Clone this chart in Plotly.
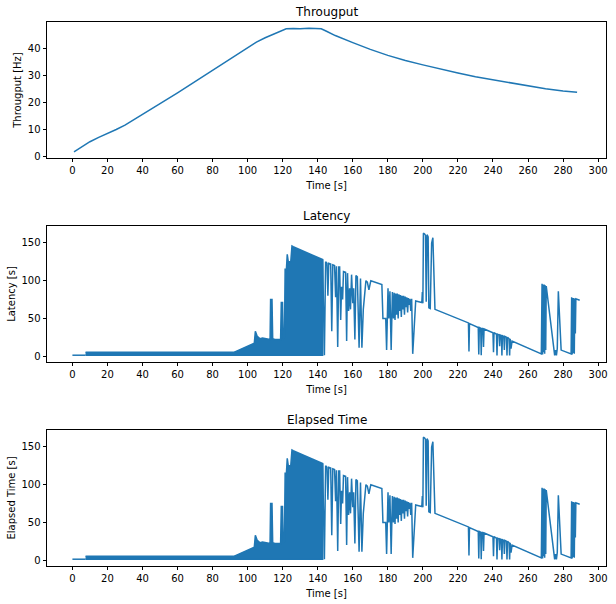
import plotly.graph_objects as go
from plotly.subplots import make_subplots

BLUE = "#1f77b4"
FONT = "DejaVu Sans"

# throughput [Hz] over time [s]
thr_t = [0.9, 5, 10, 15, 20, 25, 30, 35, 40, 50, 60, 70, 80, 90, 100, 105, 110, 115, 120, 122,
         126, 130, 135, 140, 142, 145, 150, 160, 170, 180, 190, 200, 210, 220, 230, 240, 250,
         260, 270, 280, 288]
thr_v = [1.8, 3.6, 5.5, 7.1, 8.5, 10.0, 11.6, 13.5, 15.5, 19.5, 23.5, 27.7, 31.8, 36.0, 40.3,
         42.2, 43.8, 45.3, 46.6, 47.1, 47.2, 47.1, 47.3, 47.2, 47.1, 46.2, 44.6, 42.0, 39.5, 37.3,
         35.4, 33.8, 32.2, 30.8, 29.4, 28.3, 27.0, 26.0, 25.0, 24.2, 23.7]

# latency [s]: quiet start, then a densely oscillating band (upper / lower envelope)
lat_start_t = [0.0, 7.5]
lat_start_v = [1.2, 1.2]

band_t = [7.5, 92, 94, 96, 98, 100, 102, 103.8, 104.4, 104.9, 105.5, 106.2, 107, 108.5, 110,
          111.5, 112.8, 113.1, 113.9, 114.3, 115.5, 117, 118.8, 119.2, 119.9, 120.3, 121.0,
          121.4, 122.0, 122.6, 123.2, 124.6, 125.3, 126.0, 130, 135, 140, 142.8]
band_hi = [5, 5, 7, 9, 11, 13, 15, 17, 33, 30, 26, 25, 23, 24, 23, 22, 22, 75, 75, 23,
           22, 22, 22, 71, 71, 23, 25, 116, 110, 135, 125, 125, 146, 145, 141, 136, 131, 128]
band_lo = [1, 1, 1, 1, 1, 1, 1, 1, 1, 1, 1, 1, 1, 1, 1, 1, 1,
           1, 1, 1, 1, 1, 1, 1, 1, 1, 1, 1, 1, 1, 1, 1, 1, 1,
           1, 1, 1, 1]

# latency [s]: sparse samples after the dense band
lat_t = [142.8, 143.3, 143.8, 144.5, 145.3, 145.8, 146.3, 147.4, 148.0, 148.6, 149.6, 150.2,
         150.7, 151.4, 152.0, 152.5, 153.1, 153.6, 154.2, 154.7, 155.9, 156.5, 157.0, 157.6,
         158.2, 158.7, 159.3, 160.0, 160.5, 161.2, 161.8, 162.6, 163.1, 163.6, 164.4, 165.2,
         166.0, 167.5, 168.3, 169.2, 170.3, 176.6, 177.2, 178.8, 179.3, 180.1, 180.6, 181.2,
         181.9, 182.6, 183.2, 183.6, 184.1, 184.5, 185.0, 185.4, 185.9, 186.3, 186.8, 187.2,
         187.7, 188.1, 188.6, 189.0, 189.5, 189.9, 190.4, 190.8, 191.3, 191.7, 192.2, 192.6,
         193.1, 193.6, 194.2, 195.9, 199.4, 199.7, 200.0, 200.3, 201.0, 201.5, 201.9, 202.4,
         203.0, 203.4, 204.2, 205.0, 205.7, 206.9, 208.0, 226.0, 226.3, 226.6, 231.6, 231.9,
         232.2, 233.0, 233.3, 233.6, 234.3, 234.6, 234.9, 240.0, 240.3, 240.6, 242.0, 242.3,
         242.6, 243.5, 243.8, 244.1, 244.8, 245.1, 245.4, 246.2, 246.5, 246.8, 247.7, 248.0,
         248.3, 249.2, 249.5, 249.8, 250.3, 250.9, 267.6, 268.0, 268.3, 268.6, 268.9, 269.2,
         269.5, 269.8, 270.1, 270.4, 275.2, 275.7, 276.2, 276.7, 277.3, 278.9, 284.6, 284.9,
         285.2, 285.5, 285.8, 286.1, 286.4, 286.7, 287.0, 287.3, 289.5]
lat_v = [128, 20, 1, 125, 123, 80, 123, 122, 33, 121, 120, 78,
         119, 12, 118, 118, 48, 92, 75, 112, 111, 20, 110, 60,
         90, 62, 108, 70, 90, 22, 107, 105, 62, 11, 103, 11,
         62, 100, 98, 88, 100, 95, 50, 50, 8, 90, 50, 86,
         8, 85, 50, 84, 48, 83, 55, 83, 50, 82, 60, 81,
         52, 80, 62, 80, 55, 79, 65, 78, 58, 77, 68, 76,
         60, 76, 3, 73, 71, 85, 70, 163, 162, 160, 72, 161,
         158, 64, 63, 150, 157, 62, 61, 44, 6, 43, 38, 2,
         38, 37, 1, 37, 36, 12, 36, 31, 5, 31, 29, 1,
         29, 28, 13, 28, 27, 1, 27, 26, 8, 26, 25, 1,
         25, 23, 1, 23, 10, 20, 3, 96, 2, 95, 5, 95,
         3, 94, 8, 93, 1, 8, 1, 10, 86, 8, 3, 78,
         2, 77, 4, 77, 3, 76, 30, 76, 74]

x_ticks = list(range(0, 301, 20))
thr_ticks = [0, 10, 20, 30, 40]
lat_ticks = [0, 50, 100, 150]

titles = ["Througput", "Latency", "Elapsed Time"]
y_labels = ["Througput [Hz]", "Latency [s]", "Elapsed Time [s]"]

fig = make_subplots(rows=3, cols=1, vertical_spacing=0.125, subplot_titles=titles)

fig.add_trace(go.Scatter(x=thr_t, y=thr_v, mode="lines",
                         line=dict(color=BLUE, width=1.5)), row=1, col=1)

for row in (2, 3):
    fig.add_trace(go.Scatter(x=lat_start_t, y=lat_start_v, mode="lines",
                             line=dict(color=BLUE, width=1.5)), row=row, col=1)
    fig.add_trace(go.Scatter(
        x=band_t + band_t[::-1], y=band_hi + band_lo[::-1],
        mode="lines", fill="toself", fillcolor=BLUE,
        line=dict(color=BLUE, width=1.5),
    ), row=row, col=1)
    fig.add_trace(go.Scatter(x=lat_t, y=lat_v, mode="lines",
                             line=dict(color=BLUE, width=1.5)), row=row, col=1)

axis_style = dict(
    showline=True, linecolor="black", linewidth=0.8, mirror=True,
    ticks="outside", ticklen=3.5, tickwidth=0.8, tickcolor="black",
    showgrid=False, zeroline=False, automargin=False,
    tickfont=dict(family=FONT, size=10, color="black"),
)

for row in (1, 2, 3):
    fig.update_xaxes(axis_style, row=row, col=1, range=[-14.5, 304.5], tickvals=x_ticks,
                     title=dict(text="Time [s]", standoff=6,
                                font=dict(family=FONT, size=10, color="black")))

fig.update_yaxes(axis_style, row=1, col=1, range=[-0.5, 49.6], tickvals=thr_ticks)
fig.update_yaxes(axis_style, row=2, col=1, range=[-7.8, 172.5], tickvals=lat_ticks)
fig.update_yaxes(axis_style, row=3, col=1, range=[-7.8, 172.5], tickvals=lat_ticks)
for row, label in zip((1, 2, 3), y_labels):
    fig.update_yaxes(row=row, col=1, title=dict(text=label, standoff=4,
                     font=dict(family=FONT, size=10, color="black")))

for ann in fig.layout.annotations:
    ann.font = dict(family=FONT, size=12, color="black")
    ann.yshift = 1

fig.update_layout(
    width=616, height=604,
    margin=dict(l=47, r=10, t=22, b=38),
    paper_bgcolor="white", plot_bgcolor="white",
    showlegend=False,
    font=dict(family=FONT, size=10, color="black"),
)

# drop the browser's default 8px body margin so the figure fills the window exactly
fig.write_html("out.html", config={"displayModeBar": False},
               post_script="document.body.style.margin = '0';")
